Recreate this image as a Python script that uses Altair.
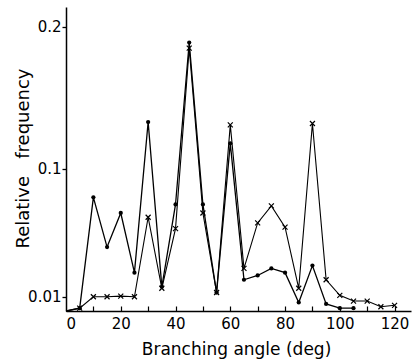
import altair as alt
import pandas as pd

angles = [0, 5, 10, 15, 20, 25, 30, 35, 40, 45, 50, 55, 60, 65, 70, 75, 80, 85, 90, 95, 100, 105, 110, 115, 120]
dots = [0.0, 0.002, 0.080, 0.045, 0.069, 0.027, 0.133, 0.017, 0.075, 0.189, 0.075, 0.013, 0.118,
        0.022, 0.025, 0.030, 0.027, 0.006, 0.032, 0.005, 0.002, 0.002]
crosses = [0.0, 0.002, 0.010, 0.010, 0.0105, 0.010, 0.066, 0.016, 0.058, 0.185, 0.069, 0.013, 0.131,
           0.030, 0.062, 0.074, 0.059, 0.016, 0.132, 0.022, 0.011, 0.007, 0.007, 0.003, 0.004]
x_labels = [0, 20, 40, 60, 80, 100, 120]
x_minor = [10, 20, 30, 40, 50, 60, 70, 80, 90, 100, 110, 120]
y_ticks = [0.01, 0.1, 0.2]

dot_df = pd.DataFrame({"angle": angles[:len(dots)], "freq": dots})
cross_df = pd.DataFrame({"angle": angles[:len(crosses)], "freq": crosses})
tick_df = pd.DataFrame({"angle": x_minor, "freq": [0.0] * len(x_minor)})

FONT = "DejaVu Sans"
W, H = 345, 304

xs = alt.Scale(domain=[0, 126], nice=False, zero=False)
ys = alt.Scale(domain=[0, 0.214], nice=False, zero=False)

xaxis = alt.Axis(values=x_labels, ticks=False, domain=True, labelPadding=5, labelFontSize=15,
                 labelFont=FONT, labelColor="black", domainColor="black", domainWidth=1.5,
                 domainOpacity=1,
                 title="Branching angle (deg)", titleFont=FONT, titleFontSize=17,
                 titleFontWeight="normal", titleColor="black", titleY=43, titleX=170,
                 titleBaseline="alphabetic", grid=False)
minor_axis = alt.Axis(orient="bottom", values=x_minor, labels=False, domain=False, ticks=True,
                      tickSize=5, offset=-5, tickColor="black", tickWidth=1.2, tickOpacity=1,
                      title=None, grid=False)
yaxis = alt.Axis(values=y_ticks, format="~g", ticks=True, tickSize=4, tickColor="black", tickWidth=1.3,
                 tickOpacity=1, domain=True, domainOpacity=1,
                 labelPadding=1, labelFontSize=15, labelFont=FONT, labelColor="black",
                 domainColor="black", domainWidth=1.5,
                 title="Relative\u00a0\u00a0 frequency", titleFont=FONT, titleFontSize=18,
                 titleFontWeight="normal", titleColor="black", titleAngle=270,
                 titleX=-43, titleY=151, titleAlign="center", titleBaseline="middle", grid=False)

X = alt.X("angle:Q", scale=xs, axis=xaxis)
Y = alt.Y("freq:Q", scale=ys, axis=yaxis)

dot_line = alt.Chart(dot_df).mark_line(color="black", strokeWidth=1.3).encode(x=X, y=Y)
dot_pts = alt.Chart(dot_df).transform_filter("datum.angle > 0").mark_point(
    shape="circle", filled=True, color="black", size=18, opacity=1).encode(x=X, y=Y)
cross_line = alt.Chart(cross_df).mark_line(color="black", strokeWidth=1.1).encode(x=X, y=Y)
cross_pts = alt.Chart(cross_df).transform_filter("datum.angle > 0").mark_point(
    shape="M-1,-1L1,1M-1,1L1,-1", filled=False, color="black",
    strokeWidth=1.2, size=25, opacity=1).encode(x=X, y=Y)
main = alt.layer(cross_line, dot_line, cross_pts, dot_pts)

minor = alt.Chart(tick_df).mark_point(opacity=0, size=1).encode(
    x=alt.X("angle:Q", scale=xs, axis=minor_axis), y=Y)

chart = alt.layer(main, minor).resolve_axis(x="independent").properties(
    width=W, height=H,
    padding={"left": 66, "top": 7, "right": 1, "bottom": 52},
    autosize=alt.AutoSizeParams(type="none"),
    background="white",
).configure_view(stroke=None)

chart.save("out.html", embed_options={"renderer": "svg", "actions": False})
